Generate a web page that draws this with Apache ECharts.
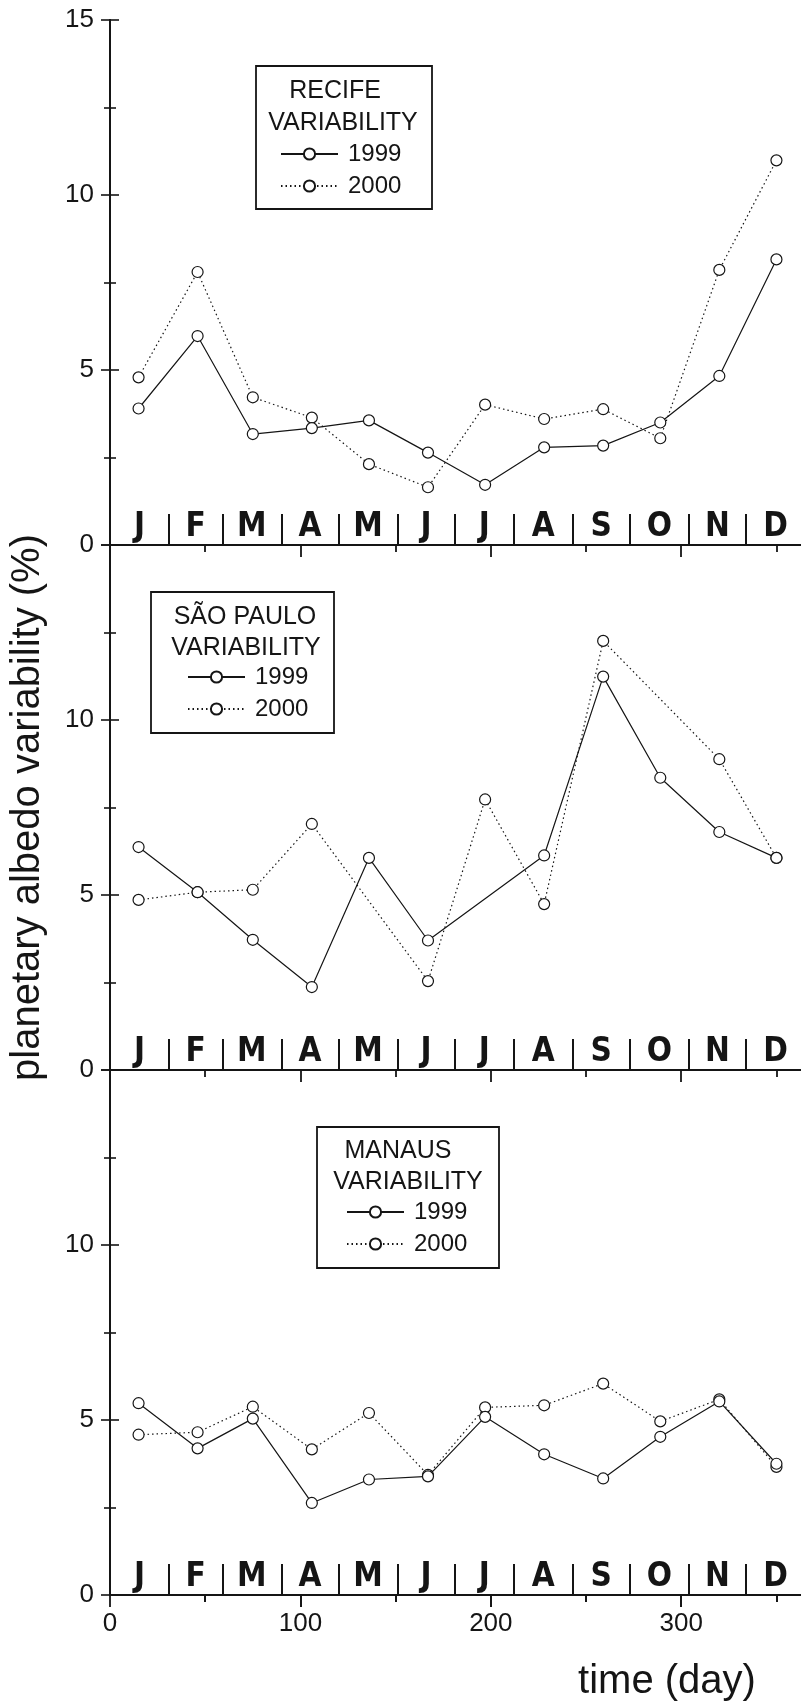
<!DOCTYPE html>
<html><head><meta charset="utf-8">
<script src="https://cdn.jsdelivr.net/npm/echarts@6/dist/echarts.min.js"></script>
<style>html,body{margin:0;padding:0;background:#fff}#c{width:801px;height:1702px}</style>
</head><body><div id="c"></div>
<script>
// ---- data ----
const days = [15, 46, 75, 106, 136, 167, 197, 228, 259, 289, 320, 350];
const monthLetters = ['J','F','M','A','M','J','J','A','S','O','N','D'];
const monthMids = [15.5, 45, 74.5, 105, 135.5, 166, 196.5, 227.5, 258, 288.5, 319, 349.5];
const monthBounds = [31, 59, 90, 120, 151, 181, 212, 243, 273, 304, 334];
const dayMajorTicks = [0, 100, 200, 300];
const dayMinorTicks = [50, 150, 250, 350];
const seriesNames = ['1999', '2000'];
const panelTitles = ['RECIFE', 'SÃO PAULO', 'MANAUS'];
const recife1999 = [3.9, 5.97, 3.17, 3.34, 3.56, 2.64, 1.72, 2.79, 2.84, 3.5, 4.83, 8.16];
const recife2000 = [4.79, 7.8, 4.22, 3.64, 2.31, 1.65, 4.01, 3.6, 3.88, 3.05, 7.86, 10.99];
const saoPaulo1999 = [6.37, 5.08, 3.72, 2.37, 6.06, 3.7, null, 6.13, 11.24, 8.35, 6.8, 6.06];
const saoPaulo2000 = [4.86, 5.08, 5.15, 7.03, null, 2.54, 7.73, 4.74, 12.26, null, 8.88, 6.06];
const manaus1999 = [5.48, 4.19, 5.04, 2.63, 3.3, 3.39, 5.09, 4.02, 3.33, 4.52, 5.53, 3.75];
const manaus2000 = [4.58, 4.65, 5.38, 4.16, 5.2, 3.43, 5.36, 5.42, 6.04, 4.96, 5.59, 3.66];

const panelData = [[recife1999, recife2000], [saoPaulo1999, saoPaulo2000], [manaus1999, manaus2000]];

// ---- layout ----
const INK = '#151515';
const FONT = "'Liberation Sans', Arial, sans-serif";
const NARROW = "'Liberation Sans Narrow', 'DejaVu Sans Condensed', sans-serif";
const gridTops = [20, 545, 1070];
const gridH = 525;
const boxes = [
  {x: 256, y: 66, w: 176, h: 143, t1: [335, 91], t2: [343, 123], lg: [280, 141]},
  {x: 151, y: 592, w: 183, h: 141, t1: [245, 617], t2: [246, 648], lg: [187, 664]},
  {x: 317, y: 1127, w: 182, h: 141, t1: [398, 1151], t2: [408, 1182], lg: [346, 1199]}
];

const grid = [], xAxis = [], yAxis = [], series = [], legend = [], graphic = [];
const baseX = {type: 'value', min: 0, max: 365, splitLine: {show: false}, axisLabel: {show: false}};
const black = w => ({color: INK, width: w});

gridTops.forEach((top, p) => {
  grid.push({left: 110, top: top, width: 695, height: gridH, outerBoundsMode: 'none', containLabel: false});
  // top major ticks
  xAxis.push(Object.assign({}, baseX, {gridIndex: p, position: 'top',
    axisLine: {show: true, lineStyle: black(2)},
    axisTick: {show: true, inside: true, length: 12, customValues: dayMajorTicks.slice(1), lineStyle: black(1.8)}}));
  // top minor ticks
  xAxis.push(Object.assign({}, baseX, {gridIndex: p, position: 'top',
    axisLine: {show: false},
    axisTick: {show: true, inside: true, length: 7, customValues: dayMinorTicks, lineStyle: black(1.8)}}));
  // months axis (bottom)
  const monthAxisIndex = xAxis.length;
  xAxis.push(Object.assign({}, baseX, {gridIndex: p, position: 'bottom',
    axisLine: {show: true, lineStyle: black(2)},
    axisTick: {show: true, inside: true, length: 31, customValues: monthBounds, lineStyle: black(2)},
    axisLabel: {show: true, inside: true, customValues: monthMids, margin: 18, verticalAlign: 'middle',
      formatter: v => monthLetters[monthMids.indexOf(v)],
      fontFamily: NARROW, fontWeight: 'bold', fontSize: 33, color: INK}}));
  if (p === 2) {
    xAxis.push(Object.assign({}, baseX, {gridIndex: p, position: 'bottom',
      axisLine: {show: false},
      axisTick: {show: true, inside: false, length: 12, customValues: dayMajorTicks, lineStyle: black(1.8)},
      axisLabel: {show: true, customValues: dayMajorTicks, margin: 16, fontFamily: FONT, fontSize: 26, color: INK}}));
    xAxis.push(Object.assign({}, baseX, {gridIndex: p, position: 'bottom',
      axisLine: {show: false},
      axisTick: {show: true, inside: false, length: 7, customValues: dayMinorTicks, lineStyle: black(1.8)}}));
  }
  const yLeftIndex = yAxis.length;
  yAxis.push({type: 'value', gridIndex: p, position: 'left', min: 0, max: 15, interval: 5,
    splitLine: {show: false},
    axisLine: {show: true, lineStyle: black(2)},
    axisTick: {show: true, inside: true, length: 9, lineStyle: black(1.6)},
    minorTick: {show: true, splitNumber: 2, length: 6, lineStyle: black(1.6)},
    axisLabel: {show: true, margin: 16, fontFamily: FONT, fontSize: 26, color: INK, showMaxLabel: p === 0},
    name: p === 1 ? 'planetary albedo variability (%)' : '',
    nameLocation: 'middle', nameGap: 62, nameRotate: 90,
    nameTextStyle: {fontFamily: FONT, fontSize: 40, color: INK}});
  yAxis.push({type: 'value', gridIndex: p, position: 'right', min: 0, max: 15, interval: 5,
    splitLine: {show: false},
    axisLine: {show: true, lineStyle: black(2)},
    axisTick: {show: true, inside: true, length: 9, lineStyle: black(1.6)},
    minorTick: {show: true, splitNumber: 2, length: 6, lineStyle: black(1.6)},
    axisLabel: {show: false}});

  panelData[p].forEach((vals, s) => {
    series.push({
      name: seriesNames[s], type: 'line',
      xAxisIndex: monthAxisIndex, yAxisIndex: yLeftIndex,
      data: days.map((d, i) => [d, vals[i]]).filter(pt => pt[1] != null),
      symbol: 'circle', symbolSize: 11,
      itemStyle: {color: '#fff', borderColor: INK, borderWidth: 1.2},
      lineStyle: {color: INK, width: 1.2, type: s === 0 ? 'solid' : [1.5, 3]},
      z: 3 - s, animation: false
    });
  });

  const b = boxes[p];
  graphic.push({type: 'rect', shape: {x: b.x, y: b.y, width: b.w, height: b.h},
    style: {fill: 'none', stroke: INK, lineWidth: 1.8}, z: 10});
  graphic.push({type: 'text', x: b.t1[0], y: b.t1[1],
    style: {text: panelTitles[p], font: '25px ' + FONT, fill: INK, textAlign: 'center', textVerticalAlign: 'middle'}, z: 10});
  graphic.push({type: 'text', x: b.t2[0], y: b.t2[1],
    style: {text: 'VARIABILITY', font: '25px ' + FONT, fill: INK, textAlign: 'center', textVerticalAlign: 'middle'}, z: 10});
  legend.push({orient: 'vertical', left: b.lg[0], top: b.lg[1], padding: 0,
    itemWidth: 57, itemHeight: 14, itemGap: 6, selectedMode: false,
    data: seriesNames,
    textStyle: {fontFamily: FONT, fontSize: 24, color: INK, lineHeight: 26, padding: [0, 0, 0, 5]}});
});

graphic.push({type: 'text', x: 667, y: 1682,
  style: {text: 'time (day)', font: '40px ' + FONT, fill: INK, textAlign: 'center', textVerticalAlign: 'middle'}});

const chart = echarts.init(document.getElementById('c'), null, {renderer: 'canvas'});
chart.setOption({
  animation: false,
  backgroundColor: '#fff',
  textStyle: {fontFamily: FONT},
  grid, xAxis, yAxis, series, legend, graphic
});
</script></body></html>
